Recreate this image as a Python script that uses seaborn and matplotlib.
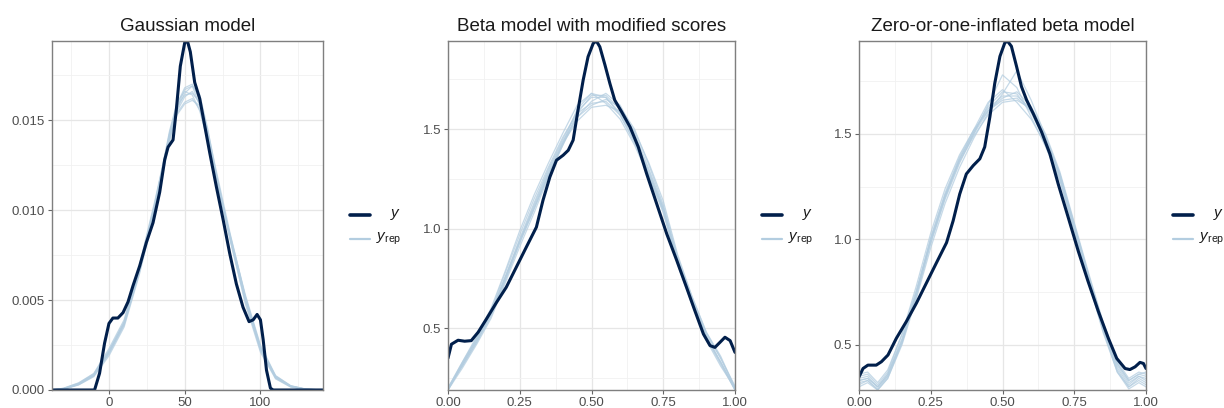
import numpy as np
import pandas as pd
import matplotlib
matplotlib.use("Agg")
import matplotlib.pyplot as plt
from matplotlib.lines import Line2D
from matplotlib.ticker import FixedLocator, FormatStrFormatter
import seaborn as sns

# ---------------------------------------------------------------------------
# Posterior predictive density overlays: observed density (y) and replicated
# densities (y_rep) for three models of the same scores.
# ---------------------------------------------------------------------------

TITLES = ["Gaussian model",
          "Beta model with modified scores",
          "Zero-or-one-inflated beta model"]

# --- Gaussian model (raw 0-100 scores) -------------------------------------
GAUSS_Y_X = [-37.6, -20, -9.5, -6.2, -2.9, 0, 2.6, 5.9, 9.3, 12.6, 15.9, 20.3,
             24.7, 29.1, 33.5, 36.8, 39.0, 42.3, 44.5, 47.1, 50.0, 51.8, 53.7,
             56.6, 59.9, 63.2, 66.5, 70.9, 75.3, 79.7, 84.1, 88.5, 92.5, 95.2,
             97.8, 100.0, 101.8, 104.0, 106.6, 108.4, 120, 141.3]
GAUSS_Y_DENS = [0, 0, 0, 0.00093, 0.0026, 0.0037, 0.0040, 0.0040, 0.0043,
                0.0049, 0.0058, 0.0069, 0.0082, 0.0093, 0.0110, 0.0128, 0.0135,
                0.0139, 0.0156, 0.0180, 0.0193, 0.0194, 0.0188, 0.0171, 0.0162,
                0.0147, 0.0132, 0.0113, 0.0095, 0.0076, 0.0059, 0.0046, 0.0038,
                0.0039, 0.0042, 0.0039, 0.0028, 0.0011, 0.0001, 0, 0, 0]

GAUSS_REP_X = [-37.6, -30, -20, -10, 0, 10, 20, 30, 40, 45, 50, 55, 60, 65,
               70, 80, 90, 100, 110, 120, 130, 141.3]
# replicated densities, in units of 1/1000
GAUSS_REP_PERMILLE = [
    [0.00, 0.08, 0.35, 0.85, 2.10, 3.70, 6.7, 10.1, 14.0, 15.5, 16.3, 16.6, 15.9, 14.2, 12.2, 8.5, 5.1, 2.3, 0.70, 0.20, 0.04, 0.00],
    [0.00, 0.05, 0.30, 0.78, 2.00, 3.60, 6.5, 10.0, 14.3, 15.9, 16.8, 17.0, 16.1, 14.3, 12.1, 8.3, 4.9, 2.2, 0.65, 0.18, 0.03, 0.00],
    [0.01, 0.10, 0.40, 0.92, 2.30, 3.90, 6.9, 10.4, 14.2, 15.4, 16.0, 16.2, 15.6, 14.0, 12.0, 8.6, 5.3, 2.5, 0.80, 0.24, 0.05, 0.00],
    [0.00, 0.06, 0.32, 0.80, 2.10, 3.70, 6.6, 10.2, 14.4, 16.0, 16.6, 16.4, 15.5, 13.9, 12.1, 8.6, 5.2, 2.4, 0.72, 0.20, 0.04, 0.00],
    [0.00, 0.04, 0.28, 0.74, 1.90, 3.50, 6.4, 9.8, 13.8, 15.6, 16.5, 16.9, 16.4, 14.6, 12.4, 8.4, 4.8, 2.1, 0.62, 0.16, 0.03, 0.00],
    [0.01, 0.09, 0.38, 0.90, 2.20, 3.80, 6.8, 10.3, 14.1, 15.3, 15.9, 16.1, 15.8, 14.4, 12.3, 8.5, 5.0, 2.3, 0.75, 0.22, 0.04, 0.00],
    [0.00, 0.07, 0.33, 0.84, 2.15, 3.75, 6.6, 10.0, 13.9, 15.7, 16.7, 16.9, 15.8, 14.0, 12.0, 8.4, 5.1, 2.4, 0.78, 0.23, 0.05, 0.00],
    [0.00, 0.05, 0.31, 0.80, 2.05, 3.65, 6.55, 10.1, 14.2, 15.8, 16.4, 16.5, 16.0, 14.5, 12.5, 8.7, 5.2, 2.3, 0.70, 0.19, 0.04, 0.00],
]

# --- Beta model with modified scores (0-1 scale) ----------------------------
BETA_Y_X = [0.0, 0.012, 0.035, 0.058, 0.081, 0.105, 0.134, 0.169, 0.203,
            0.238, 0.273, 0.308, 0.331, 0.355, 0.378, 0.401, 0.419, 0.436,
            0.453, 0.471, 0.488, 0.506, 0.517, 0.529, 0.547, 0.564, 0.581,
            0.605, 0.634, 0.663, 0.692, 0.727, 0.762, 0.797, 0.831, 0.860,
            0.890, 0.913, 0.930, 0.948, 0.965, 0.983, 1.0]
BETA_Y_DENS = [0.35, 0.42, 0.44, 0.435, 0.438, 0.48, 0.547, 0.63, 0.706,
               0.807, 0.908, 1.008, 1.143, 1.26, 1.344, 1.369, 1.394, 1.445,
               1.596, 1.747, 1.864, 1.931, 1.943, 1.914, 1.822, 1.73, 1.646,
               1.587, 1.512, 1.411, 1.277, 1.126, 0.975, 0.841, 0.706, 0.589,
               0.471, 0.413, 0.404, 0.43, 0.455, 0.438, 0.379]

BETA_REP_X = [0.0, 0.05, 0.1, 0.15, 0.2, 0.25, 0.3, 0.35, 0.4, 0.45, 0.5,
              0.55, 0.6, 0.65, 0.7, 0.75, 0.8, 0.85, 0.9, 0.95, 1.0]
BETA_REP_DENS = [
    [0.19, 0.32, 0.44, 0.58, 0.76, 0.95, 1.13, 1.30, 1.45, 1.59, 1.66, 1.66, 1.58, 1.45, 1.28, 1.10, 0.85, 0.65, 0.46, 0.33, 0.20],
    [0.20, 0.31, 0.43, 0.56, 0.74, 0.93, 1.10, 1.27, 1.42, 1.56, 1.64, 1.68, 1.62, 1.48, 1.30, 1.11, 0.84, 0.64, 0.45, 0.32, 0.19],
    [0.20, 0.33, 0.46, 0.60, 0.79, 0.99, 1.17, 1.33, 1.48, 1.62, 1.68, 1.63, 1.55, 1.42, 1.26, 1.08, 0.83, 0.64, 0.47, 0.35, 0.21],
    [0.19, 0.32, 0.45, 0.58, 0.76, 0.94, 1.11, 1.28, 1.43, 1.54, 1.61, 1.62, 1.59, 1.49, 1.33, 1.14, 0.87, 0.66, 0.48, 0.36, 0.20],
    [0.19, 0.30, 0.42, 0.55, 0.73, 0.91, 1.08, 1.26, 1.42, 1.58, 1.67, 1.67, 1.60, 1.46, 1.29, 1.10, 0.84, 0.64, 0.46, 0.33, 0.19],
    [0.20, 0.33, 0.45, 0.59, 0.78, 0.97, 1.15, 1.31, 1.46, 1.58, 1.63, 1.64, 1.57, 1.44, 1.27, 1.09, 0.82, 0.62, 0.44, 0.31, 0.20],
    [0.20, 0.31, 0.43, 0.57, 0.75, 0.94, 1.12, 1.29, 1.44, 1.56, 1.62, 1.65, 1.61, 1.50, 1.32, 1.12, 0.86, 0.66, 0.48, 0.35, 0.20],
    [0.19, 0.32, 0.44, 0.57, 0.75, 0.93, 1.10, 1.27, 1.43, 1.60, 1.68, 1.66, 1.57, 1.43, 1.27, 1.09, 0.83, 0.63, 0.45, 0.33, 0.19],
]

# --- Zero-or-one-inflated beta model (0-1 scale) ----------------------------
ZOIB_Y_X = [0.0, 0.014, 0.031, 0.06, 0.078, 0.101, 0.13, 0.165, 0.2, 0.235,
            0.27, 0.305, 0.328, 0.351, 0.374, 0.398, 0.421, 0.438, 0.456,
            0.473, 0.491, 0.508, 0.517, 0.531, 0.549, 0.566, 0.584, 0.607,
            0.636, 0.665, 0.694, 0.729, 0.764, 0.798, 0.834, 0.869, 0.898,
            0.927, 0.944, 0.962, 0.979, 0.991, 1.0]
ZOIB_Y_DENS = [0.347, 0.387, 0.403, 0.403, 0.419, 0.451, 0.53, 0.61, 0.697,
               0.793, 0.889, 0.984, 1.088, 1.215, 1.31, 1.35, 1.382, 1.438,
               1.581, 1.74, 1.868, 1.932, 1.941, 1.916, 1.82, 1.725, 1.661,
               1.597, 1.51, 1.406, 1.263, 1.104, 0.944, 0.801, 0.658, 0.53,
               0.435, 0.387, 0.382, 0.395, 0.416, 0.411, 0.387]

ZOIB_REP_X = [0.0, 0.03, 0.065, 0.1, 0.15, 0.2, 0.25, 0.3, 0.35, 0.4, 0.45,
              0.5, 0.55, 0.6, 0.65, 0.7, 0.75, 0.8, 0.85, 0.9, 0.94, 0.975, 1.0]
ZOIB_REP_DENS = [
    [0.33, 0.34, 0.30, 0.36, 0.53, 0.75, 1.00, 1.21, 1.38, 1.51, 1.63, 1.70, 1.69, 1.60, 1.46, 1.29, 1.06, 0.82, 0.58, 0.39, 0.31, 0.35, 0.33],
    [0.31, 0.33, 0.29, 0.35, 0.51, 0.73, 0.98, 1.19, 1.36, 1.50, 1.64, 1.78, 1.72, 1.58, 1.44, 1.28, 1.04, 0.80, 0.57, 0.38, 0.30, 0.34, 0.32],
    [0.35, 0.36, 0.31, 0.37, 0.55, 0.78, 1.03, 1.24, 1.40, 1.52, 1.61, 1.66, 1.67, 1.61, 1.48, 1.31, 1.07, 0.83, 0.60, 0.41, 0.33, 0.36, 0.35],
    [0.32, 0.33, 0.285, 0.34, 0.50, 0.72, 0.96, 1.17, 1.34, 1.48, 1.60, 1.69, 1.80, 1.66, 1.49, 1.30, 1.05, 0.81, 0.57, 0.37, 0.29, 0.32, 0.30],
    [0.34, 0.35, 0.30, 0.36, 0.52, 0.74, 0.99, 1.20, 1.37, 1.50, 1.61, 1.67, 1.70, 1.63, 1.50, 1.32, 1.08, 0.84, 0.61, 0.42, 0.34, 0.37, 0.36],
    [0.30, 0.32, 0.285, 0.34, 0.51, 0.74, 1.01, 1.22, 1.39, 1.52, 1.65, 1.71, 1.65, 1.57, 1.45, 1.28, 1.04, 0.80, 0.56, 0.37, 0.30, 0.33, 0.31],
    [0.33, 0.34, 0.30, 0.35, 0.52, 0.75, 0.99, 1.20, 1.38, 1.51, 1.62, 1.68, 1.68, 1.62, 1.47, 1.30, 1.06, 0.82, 0.59, 0.40, 0.32, 0.35, 0.34],
    [0.36, 0.37, 0.32, 0.38, 0.55, 0.76, 1.00, 1.21, 1.37, 1.49, 1.59, 1.65, 1.66, 1.62, 1.49, 1.31, 1.07, 0.83, 0.60, 0.41, 0.33, 0.36, 0.37],
]

# tick marks / labels
GAUSS_XTICKS = [0, 50, 100]
GAUSS_XMINOR = [-25, 25, 75, 125]
GAUSS_YTICKS = [0.0, 0.005, 0.010, 0.015]
GAUSS_YMINOR = [0.0025, 0.0075, 0.0125, 0.0175]
UNIT_XTICKS = [0.0, 0.25, 0.5, 0.75, 1.0]
UNIT_XMINOR = [0.125, 0.375, 0.625, 0.875]
UNIT_YTICKS = [0.5, 1.0, 1.5]
UNIT_YMINOR = [0.25, 0.75, 1.25, 1.75]

# ---------------------------------------------------------------------------
sns.set_theme(style="white")
plt.rcParams["font.family"] = ["Liberation Sans", "DejaVu Sans"]
plt.rcParams["mathtext.fontset"] = "custom"
plt.rcParams["mathtext.it"] = "Liberation Sans:italic"
plt.rcParams["mathtext.rm"] = "Liberation Sans"

DARK = "#011f4b"
LIGHT = "#b3cde0"

W, H = 1224, 408
fig = plt.figure(figsize=(W / 100, H / 100), dpi=100)
fig.patch.set_facecolor("white")

TOP, BOTTOM = 41, 390
PANEL_X = [(52, 323), (448, 735), (859, 1146)]


def rep_frame(grid, curves, scale=1.0):
    rows = []
    for k, curve in enumerate(curves):
        for xv, dv in zip(grid, curve):
            rows.append({"x": xv, "density": dv * scale, "draw": k})
    return pd.DataFrame(rows)


panels = [
    dict(obs=pd.DataFrame({"x": GAUSS_Y_X, "density": GAUSS_Y_DENS}),
         rep=rep_frame(GAUSS_REP_X, GAUSS_REP_PERMILLE, 1 / 1000),
         xt=GAUSS_XTICKS, xm=GAUSS_XMINOR, yt=GAUSS_YTICKS, ym=GAUSS_YMINOR,
         xfmt="%d", yfmt="%.3f"),
    dict(obs=pd.DataFrame({"x": BETA_Y_X, "density": BETA_Y_DENS}),
         rep=rep_frame(BETA_REP_X, BETA_REP_DENS),
         xt=UNIT_XTICKS, xm=UNIT_XMINOR, yt=UNIT_YTICKS, ym=UNIT_YMINOR,
         xfmt="%.2f", yfmt="%.1f"),
    dict(obs=pd.DataFrame({"x": ZOIB_Y_X, "density": ZOIB_Y_DENS}),
         rep=rep_frame(ZOIB_REP_X, ZOIB_REP_DENS),
         xt=UNIT_XTICKS, xm=UNIT_XMINOR, yt=UNIT_YTICKS, ym=UNIT_YMINOR,
         xfmt="%.2f", yfmt="%.1f"),
]

for i, (p, (x0, x1)) in enumerate(zip(panels, PANEL_X)):
    ax = fig.add_axes([x0 / W, 1 - BOTTOM / H, (x1 - x0) / W, (BOTTOM - TOP) / H])
    ax.set_facecolor("white")

    sns.lineplot(data=p["rep"], x="x", y="density", units="draw",
                 estimator=None, color=LIGHT, lw=0.9, alpha=0.75,
                 legend=False, ax=ax, sort=False)
    sns.lineplot(data=p["obs"], x="x", y="density", color=DARK, lw=2.2,
                 legend=False, ax=ax, sort=False)

    allx = pd.concat([p["obs"]["x"], p["rep"]["x"]])
    ally = pd.concat([p["obs"]["density"], p["rep"]["density"]])
    ax.set_xlim(allx.min(), allx.max())
    ax.set_ylim(ally.min(), ally.max())

    ax.xaxis.set_major_locator(FixedLocator(p["xt"]))
    ax.xaxis.set_minor_locator(FixedLocator(p["xm"]))
    ax.yaxis.set_major_locator(FixedLocator(p["yt"]))
    ax.yaxis.set_minor_locator(FixedLocator(p["ym"]))
    ax.xaxis.set_major_formatter(FormatStrFormatter(p["xfmt"]))
    ax.yaxis.set_major_formatter(FormatStrFormatter(p["yfmt"]))

    ax.set_axisbelow(True)
    ax.grid(which="major", color="#e6e6e6", lw=0.9)
    ax.grid(which="minor", color="#f1f1f1", lw=0.6)
    ax.tick_params(which="major", length=3, width=0.8, color="#666666",
                   labelcolor="#4d4d4d", labelsize=9.5, pad=2,
                   bottom=True, left=True)
    ax.tick_params(which="minor", length=0)
    for s in ax.spines.values():
        s.set_visible(True)
        s.set_color("#7f7f7f")
        s.set_linewidth(1.0)
    ax.set_xlabel("")
    ax.set_ylabel("")
    ax.set_title(TITLES[i], fontsize=13.5, color="#1a1a1a", pad=7)

    # legend beside each panel
    hx0, hx1 = (x1 + 27) / W, (x1 + 47) / W
    tx = (x1 + 78) / W
    for yy, col, lw, lab in [(215, DARK, 2.6, r"$y$"),
                             (239, LIGHT, 1.6, r"$y_{\mathrm{rep}}$")]:
        fy = 1 - yy / H
        fig.add_artist(Line2D([hx0, hx1], [fy, fy], color=col, lw=lw,
                              transform=fig.transFigure))
        fig.text(tx, fy, lab, ha="right", va="center", fontsize=11,
                 color="#1a1a1a")

fig.savefig("out.png", dpi=100, facecolor="white")
